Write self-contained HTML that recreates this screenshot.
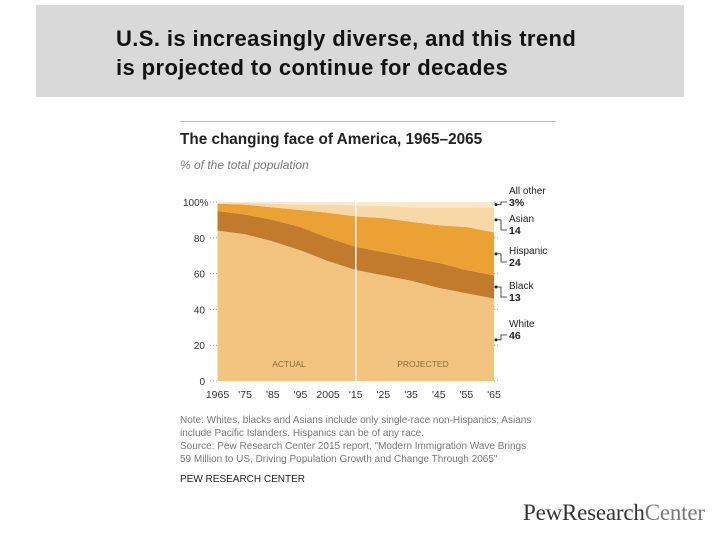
<!DOCTYPE html>
<html><head><meta charset="utf-8"><style>
body{margin:0;width:720px;height:540px;background:#fff;position:relative;overflow:hidden;font-family:"Liberation Sans",sans-serif}
.abs{position:absolute;white-space:nowrap}
</style></head><body>
<div class="abs" style="left:36px;top:5px;width:648px;height:92px;background:#d9d9d9"></div>
<div class="abs" style="left:116px;top:24px;font-size:22px;font-weight:bold;letter-spacing:0.4px;line-height:29px;color:#111">U.S. is increasingly diverse, and this trend<br>is projected to continue for decades</div>
<div class="abs" style="left:180px;top:121px;width:376px;height:1px;background:#bbb"></div>
<div class="abs" style="left:180px;top:131px;font-size:15.3px;font-weight:bold;color:#222">The changing face of America, 1965–2065</div>
<div class="abs" style="left:180px;top:158px;font-size:12px;font-style:italic;color:#777">% of the total population</div>
<svg class="abs" style="left:0;top:0" width="720" height="540">
<g id="g"></g></svg>
<div class="abs" style="left:180px;top:414px;font-size:10px;line-height:13px;color:#777">Note: Whites, blacks and Asians include only single-race non-Hispanics; Asians<br>include Pacific Islanders. Hispanics can be of any race.<br>Source: Pew Research Center 2015 report, "Modern Immigration Wave Brings<br>59 Million to US, Driving Population Growth and Change Through 2065"</div>
<div class="abs" style="left:180px;top:474px;font-size:10px;color:#222">PEW RESEARCH CENTER</div>
<div class="abs" style="left:523px;top:500px;font-family:'Liberation Serif',serif;font-size:23px;color:#333;letter-spacing:-0.2px">PewResearch<span style="color:#777">Center</span></div>
<script>
const years=[1965,1975,1985,1995,2005,2015,2025,2035,2045,2055,2065];
const white=[84,82,78,73,67,62,59,56,52,49,46];
const black=[11,11,12,13,13,13,13,13,14,13,13];
const hispanic=[4,5.5,7,9.5,14,17,19,20,21,24,24];
const asian=[0.5,1,2,3,4.5,6,7,8,10,11,14];
const other=[0.5,0.5,1,1.5,1.5,2,2,3,3,3,3];
const yTicks=[0,20,40,60,80,100];
const xTickLabels=["1965","'75","'85","'95","2005","'15","'25","'35","'45","'55","'65"];
const legendNames=["White","Black","Hispanic","Asian","All other"];
const legendVals=["46","13","24","14","3%"];
const NS="http://www.w3.org/2000/svg",g=document.getElementById('g');
const X=y=>217.5+(y-1965)*(494-217.5)/100, Y=v=>381-v*1.79;
function mk(t,a,txt){const e=document.createElementNS(NS,t);for(const k in a)e.setAttribute(k,a[k]);if(txt!=null)e.textContent=txt;g.appendChild(e);return e;}
const layers=[white,black,hispanic,asian,other],cols=["#f3c47f","#c27b2d","#eba134","#f8d8a6","#fbe8cd"];
let base=years.map(()=>0);
const tops=[];
layers.forEach((L,i)=>{
 const top=base.map((b,j)=>b+L[j]);
 let d="M"+years.map((y,j)=>X(y)+","+Y(top[j])).join("L");
 for(let j=years.length-1;j>=0;j--)d+="L"+X(years[j])+","+Y(base[j]);
 const p=mk('path',{d:d+"Z",fill:cols[i]});
 
 
 tops.push(top.slice());base=top;
});
const vl=mk('line',{x1:X(2015),x2:X(2015),y1:Y(100),y2:Y(0),stroke:"#fff","stroke-width":1.5});

yTicks.forEach(t=>{
 const l=mk('line',{x1:210,x2:217,y1:Y(t),y2:Y(t),stroke:"#999","stroke-dasharray":"1,2"});
 
 const r=mk('line',{x1:494,x2:500,y1:Y(t),y2:Y(t),stroke:"#999","stroke-dasharray":"1,2"});
 
 const tx=mk('text',{x:t==100?183:205,y:Y(t)+4,"font-size":10,fill:"#333","text-anchor":t==100?"start":"end"},t==100?"100%":t);
 
});
years.forEach((y,j)=>{
 const tx=mk('text',{x:X(y),y:398,"font-size":10.5,fill:"#333","text-anchor":"middle"},xTickLabels[j]);
 
});
const a1=mk('text',{x:289,y:367,"font-size":8.5,fill:"#8a6a40","text-anchor":"middle"},"ACTUAL");

const a2=mk('text',{x:423,y:367,"font-size":8.5,fill:"#8a6a40","text-anchor":"middle"},"PROJECTED");

const n=years.length-1;
layers.forEach((L,i)=>{
 const lo=i==0?0:tops[i-1][n], mid=Y((lo+tops[i][n])/2);
 const dot=mk('circle',{cx:496,cy:mid,r:1.5,fill:"#222"});
 
 const ty=[339,301,266,234,206][i];
 mk('path',{d:`M496,${mid}H501V${ty-4}H507`,stroke:"#222",fill:"none","stroke-width":0.8});
 const t1=mk('text',{x:509,y:ty-12,"font-size":10,fill:"#222"},legendNames[i]);
 
 const t2=mk('text',{x:509,y:ty,"font-size":10.5,"font-weight":"bold",fill:"#222"},legendVals[i]);
 
});
</script>
</body></html>
